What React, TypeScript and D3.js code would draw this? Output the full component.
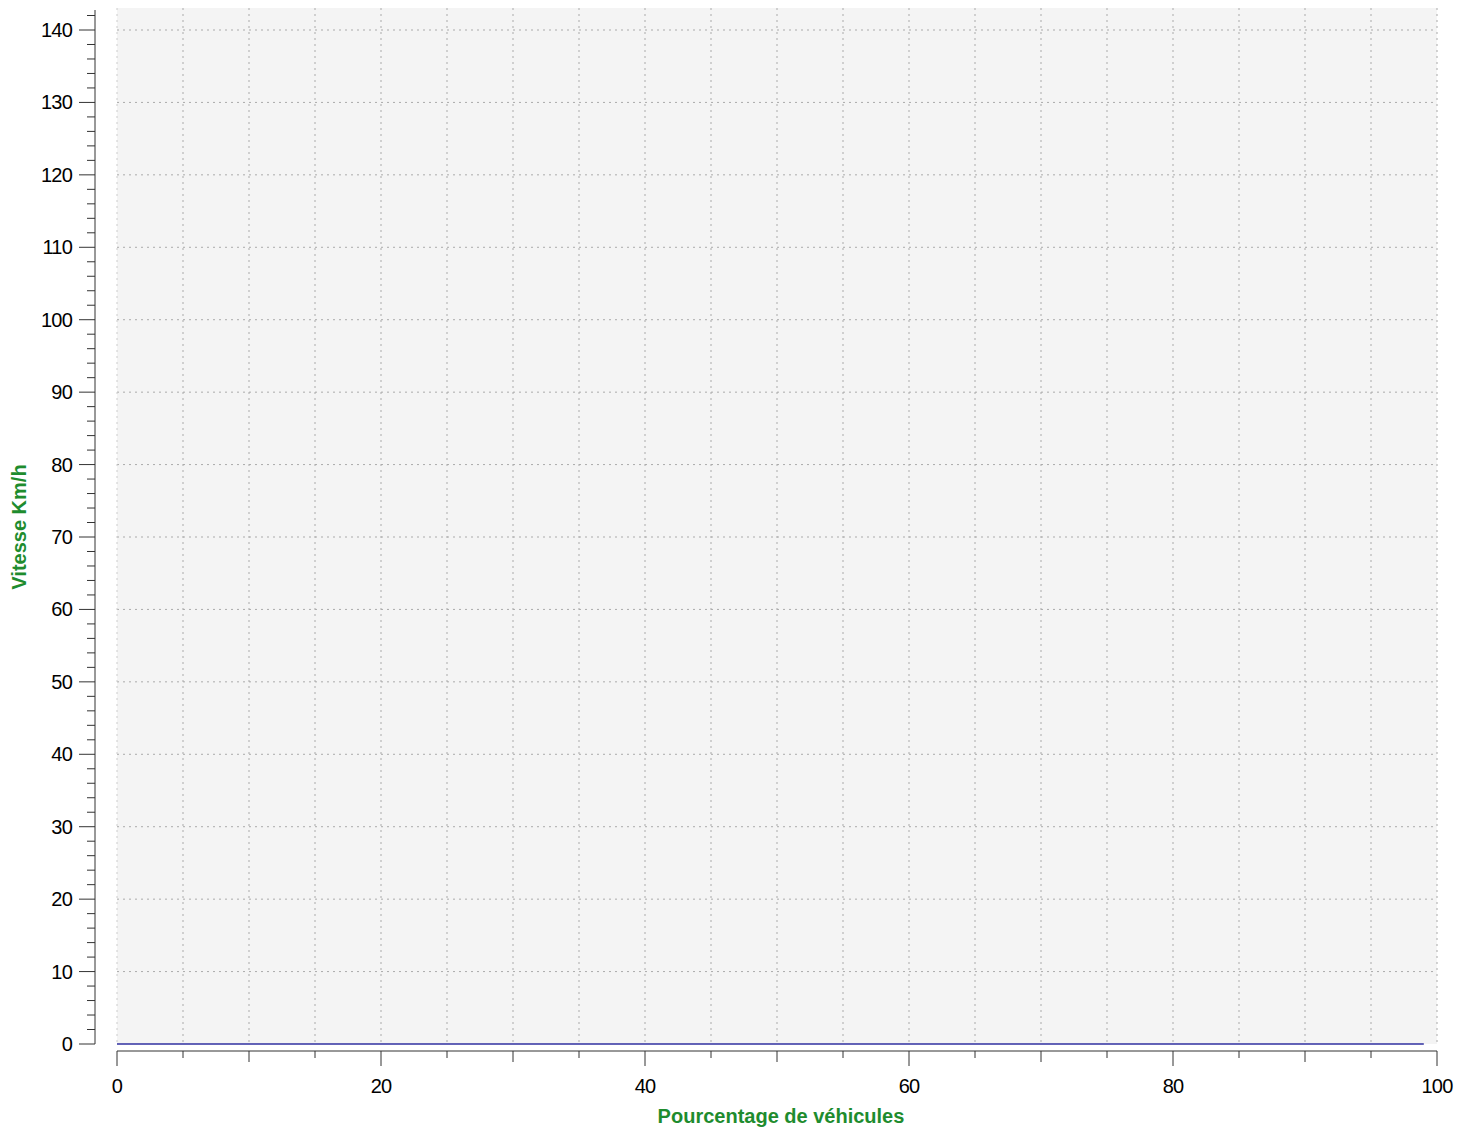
import React from "react";
import * as d3 from "d3";

const xPercent = d3.range(0, 100);
const speedValues = xPercent.map(() => 0);
const yTicks = [0, 10, 20, 30, 40, 50, 60, 70, 80, 90, 100, 110, 120, 130, 140];
const xTicks = [0, 20, 40, 60, 80, 100];

export default function App() {
  const W = 1471, H = 1130;
  const x = d3.scaleLinear().domain([0, 100]).range([117, 1437]);
  const y = d3.scaleLinear().domain([0, 140]).range([1044, 30]);
  const line = d3.line<number>().x((_, i) => x(xPercent[i])).y((d) => y(d));
  const xGrid = d3.range(5, 101, 5);
  const yGrid = d3.range(10, 141, 10);
  const yMinor = d3.range(0, 143, 2);
  const xMinor = d3.range(0, 101, 5);
  const font = "Arial, 'Liberation Sans', sans-serif";
  return (
    <svg width={W} height={H} style={{ position: "absolute", left: 0, top: 0 }} fontFamily={font}>
      <rect x={0} y={0} width={W} height={H} fill="#fff" />
      <rect x={117} y={8} width={1320} height={1036} fill="#f4f4f4" />
      {xGrid.map((v) => (
        <line key={"gx" + v} x1={x(v)} x2={x(v)} y1={8} y2={1044} stroke="#aaa" strokeDasharray="2,4" />
      ))}
      {yGrid.map((v) => (
        <line key={"gy" + v} x1={117} x2={1437} y1={y(v)} y2={y(v)} stroke="#aaa" strokeDasharray="2,4" />
      ))}
      <line x1={117} x2={117} y1={8} y2={1044} stroke="#ccc" strokeDasharray="2,4" />
      <path d={line(speedValues) || ""} fill="none" stroke="#3030a0" strokeWidth={1.5} />
      <line x1={95} x2={95} y1={10} y2={1044} stroke="#333" />
      {yMinor.map((v) => (
        <line key={"ym" + v} x1={v % 10 === 0 ? 79 : 87} x2={95} y1={y(v)} y2={y(v)} stroke="#333" />
      ))}
      {yTicks.map((v) => (
        <text key={"yt" + v} x={72} y={y(v)} dy="0.35em" textAnchor="end" fontSize={20} letterSpacing={-0.8} fill="#000">{v}</text>
      ))}
      <line x1={117} x2={1437} y1={1051} y2={1051} stroke="#333" />
      {xMinor.map((v) => (
        <line key={"xm" + v} x1={x(v)} x2={x(v)} y1={1051} y2={1051 + (v % 20 === 0 ? 15 : v % 10 === 0 ? 11 : 7)} stroke="#333" />
      ))}
      {xTicks.map((v) => (
        <text key={"xt" + v} x={x(v)} y={1093} textAnchor="middle" fontSize={20} letterSpacing={-0.8} fill="#000">{v}</text>
      ))}
      <text x={781} y={1123} textAnchor="middle" fontSize={20} fontWeight="bold" fill="#1e8c2e">Pourcentage de véhicules</text>
      <text transform="translate(26,527) rotate(-90)" textAnchor="middle" fontSize={20} fontWeight="bold" fill="#1e8c2e">Vitesse Km/h</text>
    </svg>
  );
}
